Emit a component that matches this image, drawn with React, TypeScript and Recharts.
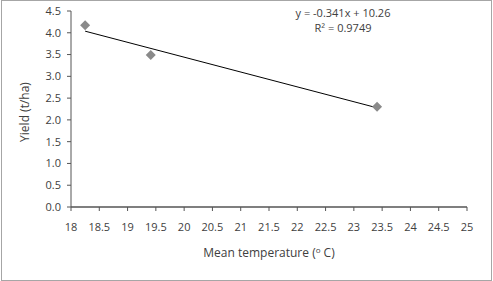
import React from "react";
import { ComposedChart, Scatter, Line, XAxis, YAxis, Label } from "recharts";

const temperatures = [18.25, 19.41, 23.41];
const yields = [4.17, 3.49, 2.3];
const xTicks = [18, 18.5, 19, 19.5, 20, 20.5, 21, 21.5, 22, 22.5, 23, 23.5, 24, 24.5, 25];
const yTicks = [0, 0.5, 1, 1.5, 2, 2.5, 3, 3.5, 4, 4.5];
const slope = -0.341;
const intercept = 10.26;
const equationText = "y = -0.341x + 10.26";
const r2Text = "R² = 0.9749";

const points = temperatures.map((t, i) => ({ x: t, y: yields[i] }));
const xMin = Math.min(...temperatures);
const xMax = Math.max(...temperatures);
const trend = [xMin, xMax].map((x) => ({ x, y: slope * x + intercept }));

const FONT = "'Open Sans', sans-serif";
const TEXT = "#404040";

const Diamond = (props: any) => {
  const { cx, cy } = props;
  const r = 5;
  return (
    <polygon
      points={`${cx},${cy - r} ${cx + r},${cy} ${cx},${cy + r} ${cx - r},${cy}`}
      fill="#8a8a8a"
    />
  );
};

export default function App() {
  return (
    <div style={{ position: "absolute", left: 0, top: 0, width: 493, height: 281, background: "#fff" }}>
      <div
        style={{
          position: "absolute",
          left: 1,
          top: 0,
          width: 491,
          height: 281,
          boxSizing: "border-box",
          border: "1px solid #a6a6a6",
        }}
      />
      <ComposedChart
        width={493}
        height={281}
        margin={{ top: 11, right: 26, bottom: 44, left: 0 }}
        style={{ position: "absolute", left: 0, top: 0, fontFamily: FONT }}
      >
        <XAxis
          type="number"
          dataKey="x"
          domain={[18, 25]}
          ticks={xTicks}
          interval={0}
          allowDataOverflow
          height={30}
          tickSize={4}
          tickMargin={12}
          tick={{ fill: TEXT, fontSize: 11, fontFamily: FONT }}
          axisLine={{ stroke: "#7f7f7f", strokeWidth: 2 }}
          tickLine={{ stroke: "#555" }}
        >
          <Label
            position="bottom"
            offset={6}
            content={(p: any) => {
              const vb = p.viewBox;
              const cx = vb.x + vb.width / 2;
              return (
                <text x={cx} y={257} textAnchor="middle" fill={TEXT} fontSize={12} fontFamily={FONT}>
                  Mean temperature (
                  <tspan fontSize={8} dy={-4}>o</tspan>
                  <tspan dy={4}> C)</tspan>
                </text>
              );
            }}
          />
        </XAxis>
        <YAxis
          type="number"
          dataKey="y"
          domain={[0, 4.5]}
          ticks={yTicks}
          interval={0}
          width={71}
          tickSize={4}
          tickMargin={6}
          tickFormatter={(v: number) => v.toFixed(1)}
          tick={{ fill: TEXT, fontSize: 11, fontFamily: FONT }}
          axisLine={{ stroke: "#555" }}
          tickLine={{ stroke: "#555" }}
        >
          <Label
            content={() => (
              <text
                x={24}
                y={112}
                transform="rotate(-90 24 112)"
                textAnchor="middle"
                dominantBaseline="central"
                fill={TEXT}
                fontSize={12}
                fontFamily={FONT}
              >
                Yield (t/ha)
              </text>
            )}
          />
        </YAxis>
        <Line
          data={trend}
          dataKey="y"
          type="linear"
          stroke="#000"
          strokeWidth={1}
          dot={false}
          activeDot={false}
          isAnimationActive={false}
          legendType="none"
        />
        <Scatter data={points} dataKey="y" shape={<Diamond />} isAnimationActive={false} />
        <text x={343} y={17} textAnchor="middle" fill={TEXT} fontSize={11} fontFamily={FONT}>
          {equationText}
        </text>
        <text x={343} y={32} textAnchor="middle" fill={TEXT} fontSize={11} fontFamily={FONT}>
          {r2Text}
        </text>
      </ComposedChart>
    </div>
  );
}
